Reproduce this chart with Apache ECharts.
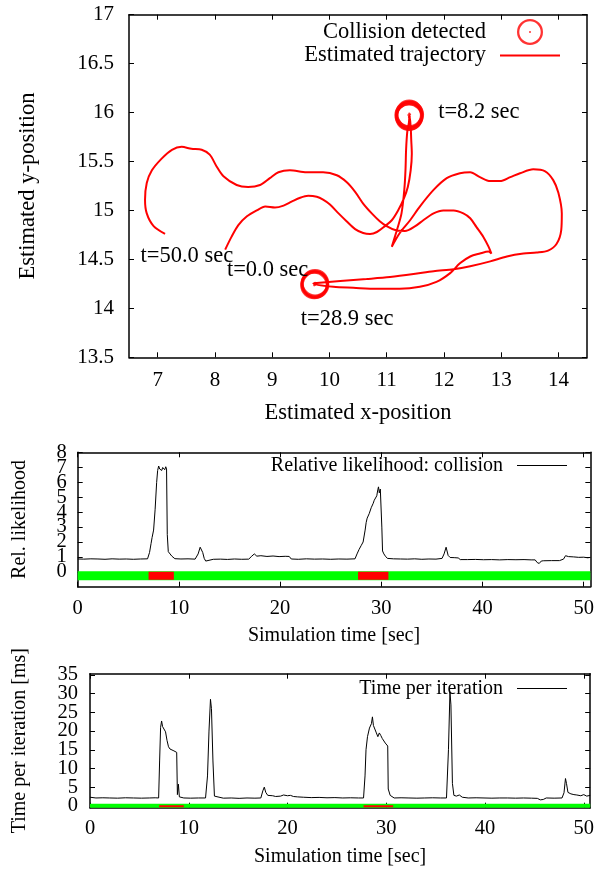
<!DOCTYPE html>
<html><head><meta charset="utf-8">
<script src="https://cdn.jsdelivr.net/npm/echarts@6/dist/echarts.min.js"></script>
<style>html,body{margin:0;padding:0;background:#fff}#c{width:597px;height:873px}</style>
</head><body><div id="c"></div><script>
// ---------- Top panel: estimated trajectory (x, y) in time order ----------
const trajectory = [
[8.18,14.60],[8.29,14.73],[8.41,14.85],[8.56,14.94],[8.73,15.00],[8.88,15.04],[9.05,15.03],[9.20,15.05],
[9.34,15.09],[9.49,15.13],[9.63,15.15],[9.78,15.14],[9.89,15.11],[10.01,15.06],[10.16,14.97],[10.30,14.89],
[10.45,14.81],[10.59,14.77],[10.71,14.76],[10.83,14.78],[10.97,14.84],[11.09,14.90],[11.20,15.00],[11.30,15.12],
[11.37,15.24],[11.42,15.41],[11.44,15.58],[11.43,15.72],[11.42,15.86],[11.40,15.97],
[11.39,15.90],[11.36,15.80],[11.34,15.62],[11.33,15.42],[11.31,15.22],[11.26,14.97],[11.18,14.80],[11.09,14.63],
[11.23,14.77],[11.41,14.90],[11.58,15.04],[11.82,15.21],[12.05,15.33],[12.28,15.38],[12.46,15.39],[12.63,15.34],
[12.81,15.30],[12.98,15.30],[13.16,15.34],[13.33,15.38],[13.56,15.42],[13.77,15.40],[13.91,15.31],[14.00,15.18],
[14.06,14.97],[14.05,14.80],[13.97,14.66],[13.82,14.59],[13.62,14.57],[13.39,14.56],[13.10,14.53],[12.81,14.48],
[12.46,14.43],[12.17,14.40],[11.82,14.38],[11.47,14.35],[11.06,14.32],[10.65,14.30],[10.19,14.28],[9.78,14.26],
[9.72,14.255],[10.07,14.22],[10.42,14.21],[10.83,14.20],[11.23,14.20],[11.58,14.22],[11.87,14.27],[12.11,14.36],
[12.28,14.46],[12.46,14.53],[12.63,14.56],[12.78,14.58],[12.83,14.56],[12.78,14.63],[12.69,14.73],[12.57,14.83],
[12.46,14.92],[12.34,14.97],[12.17,15.00],[11.99,15.00],[11.82,14.97],[11.64,14.90],[11.50,14.84],[11.32,14.79],
[11.15,14.80],[11.00,14.84],[10.88,14.89],[10.74,14.97],[10.59,15.07],[10.45,15.19],[10.30,15.29],[10.13,15.36],
[9.89,15.39],[9.60,15.39],[9.31,15.41],[9.11,15.39],[8.96,15.33],[8.79,15.26],[8.58,15.24],[8.38,15.26],
[8.15,15.35],[8.03,15.45],[7.91,15.57],[7.77,15.62],[7.59,15.63],[7.42,15.65],[7.25,15.62],[7.07,15.53],
[6.90,15.41],[6.81,15.28],[6.78,15.11],[6.81,14.97],[6.93,14.84],[7.13,14.76]
];
const collisions = [
[11.38,15.975],[11.40,15.96],[11.41,15.98],[11.395,15.99],[11.39,15.955],
[9.74,14.25],[9.755,14.24],[9.75,14.26],[9.735,14.235]
];
const annoText = ['t=8.2 sec','t=50.0 sec','t=0.0 sec','t=28.9 sec'];
const annoX = [11.90, 6.70, 8.21, 9.50];
const annoY = [16.00, 14.535, 14.39, 13.89];
const topXTicks = [7,8,9,10,11,12,13,14];
const topYTicks = [13.5,14,14.5,15,15.5,16,16.5,17];

// ---------- Middle panel: relative likelihood of collision [t, value] ----------
const likelihood = [
[0,0.86],[0.6,0.85],[1.3,0.87],[2.0,0.86],[2.7,0.84],[3.4,0.87],[4.1,0.85],[4.8,0.86],[5.5,0.84],[6.2,0.86],
[6.9,0.87],[7.1,1.3],[7.25,1.9],[7.35,2.3],[7.5,2.8],[7.65,4.2],[7.8,6.0],[7.9,6.8],[8.0,7.1],[8.1,6.9],
[8.2,7.0],[8.3,6.8],[8.4,7.0],[8.5,7.05],[8.6,6.85],[8.7,7.05],[8.78,6.9],[8.85,2.5],[8.95,1.35],[9.1,1.25],
[9.3,1.05],[9.6,0.88],[10.2,0.86],[10.9,0.87],[11.6,0.85],[11.9,1.2],[12.1,1.65],[12.2,1.7],[12.35,1.3],[12.5,0.9],
[12.65,0.72],[12.8,0.82],[13.4,0.84],[14.1,0.85],[14.8,0.83],[15.5,0.86],[16.2,0.84],[16.9,0.85],[17.2,1.05],[17.45,1.2],
[17.7,1.05],[18.1,1.08],[18.7,1.03],[19.3,1.06],[19.9,1.02],[20.5,1.04],[20.9,1.03],[21.1,0.86],[21.8,0.84],[22.6,0.87],
[23.4,0.85],[24.2,0.86],[25.0,0.84],[25.8,0.86],[26.6,0.85],[27.4,0.87],[27.6,1.2],[27.8,1.5],[28.0,1.75],[28.2,2.0],
[28.4,2.8],[28.5,3.3],[28.6,3.6],[28.8,3.9],[29.0,4.3],[29.2,4.6],[29.3,4.8],[29.4,4.7],[29.55,5.1],[29.65,5.5],
[29.72,5.7],[29.8,5.3],[29.9,5.55],[30.0,5.45],[30.05,3.0],[30.12,1.4],[30.25,1.2],[30.4,1.05],[30.6,0.9],[31.2,0.87],
[31.9,0.86],[32.6,0.85],[33.3,0.87],[34.0,0.84],[34.7,0.86],[35.4,0.85],[36.0,0.9],[36.2,1.2],[36.4,1.65],[36.6,1.1],
[36.8,0.96],[37.2,0.95],[37.6,0.93],[37.8,0.82],[38.5,0.82],[39.3,0.83],[40.1,0.81],[40.9,0.82],[41.7,0.8],[42.5,0.82],
[43.3,0.81],[44.1,0.82],[44.8,0.8],[45.2,0.8],[45.4,0.62],[45.6,0.56],[45.8,0.72],[46.0,0.74],[46.8,0.75],[47.6,0.75],
[48.0,0.85],[48.2,1.08],[48.5,1.02],[49.0,1.0],[49.5,0.97],[50.0,0.98],[50.4,0.94],[50.65,0.97]
];
const likeTicks = [0,1,2,3,4,5,6,7,8];

// ---------- Bottom panel: time per iteration [t, ms] ----------
const iterationTime = [
[0,2.3],[0.6,2.1],[1.3,2.15],[2.0,2.1],[2.8,2.05],[3.6,2.15],[4.4,2.1],[5.2,2.05],[6.0,2.1],[6.6,2.15],
[6.95,2.1],[7.05,12],[7.15,21],[7.25,22.7],[7.35,21.2],[7.5,20.8],[7.65,19.8],[7.8,17.5],[7.95,15.8],[8.1,15.2],
[8.3,14.9],[8.5,14.7],[8.7,14.8],[8.78,14.3],[8.85,3.0],[8.95,5.8],[9.0,5.5],[9.05,2.4],[9.15,2.3],[9.5,2.1],
[10.2,2.05],[11.0,2.1],[11.7,2.1],[11.9,8],[12.05,20],[12.2,28.5],[12.3,26],[12.45,12],[12.6,2.6],[12.8,2.1],
[13.5,2.05],[14.3,2.1],[15.1,2.0],[15.9,2.1],[16.7,2.05],[17.3,2.1],[17.5,4.0],[17.65,5.0],[17.8,3.6],[18.0,2.8],
[18.2,3.3],[18.5,2.7],[18.8,2.5],[19.0,3.0],[19.3,2.6],[19.6,2.9],[19.8,3.3],[20.0,2.7],[20.3,2.8],[20.6,2.5],
[21.0,2.4],[21.6,2.3],[22.4,2.2],[23.2,2.25],[24.0,2.15],[24.8,2.2],[25.6,2.1],[26.4,2.15],[27.2,2.1],[27.7,2.1],
[27.85,8],[27.95,15],[28.1,18.5],[28.3,20.8],[28.5,22.0],[28.6,23.8],[28.7,21.5],[28.85,21.0],[29.0,19.5],[29.15,18.5],
[29.3,19.5],[29.45,18.8],[29.6,18.0],[29.75,17.6],[29.9,16.8],[30.05,16.5],[30.15,16.0],[30.2,4.5],[30.3,5.0],[30.4,2.8],
[30.55,2.3],[30.8,2.1],[31.5,2.15],[32.3,2.1],[33.1,2.05],[33.9,2.1],[34.7,2.15],[35.5,2.1],[36.1,2.1],[36.3,15],
[36.45,30.5],[36.55,27],[36.7,6],[36.85,2.8],[37.1,2.6],[37.4,2.9],[37.7,2.3],[38.3,2.1],[39.1,2.15],[39.9,2.1],
[40.7,2.05],[41.5,2.1],[42.3,2.1],[43.1,2.05],[43.9,2.1],[44.7,2.05],[45.3,2.0],[45.6,1.6],[45.9,1.7],[46.2,2.1],
[47.0,2.05],[47.8,2.1],[48.0,3.5],[48.15,7.3],[48.25,6.0],[48.4,3.6],[48.7,3.2],[49.0,3.0],[49.3,2.9],[49.7,2.7],
[50.0,3.0],[50.3,2.6],[50.65,2.8]
];
const iterTicks = [0,5,10,15,20,25,30,35];

// ---------- Shared: time axis and collision state ----------
const timeTicks = [0,10,20,30,40,50];
const timeEnd = 50.65;
const collisionIntervals = [[7.0,9.5],[27.7,30.7]];

// ---------- build ----------
const FONT = 'Liberation Serif';
const txt = fs => ({color:'#000', fontFamily:FONT, fontSize:fs});
const TOP_TICK = 21, TOP_TEXT = 22.5, LOW_TICK = 20.5, LOW_TEXT = 20;

// padEnds: add blank sentinel labels at the axis ends so ECharts' min/max-label
// overlap handling drops only those blanks and keeps every real tick label.
function mkAxis(gridIndex, position, min, max, ticks, showLabel, margin, tickFs, name, nameGap, nameFs, padEnds){
  const vals = padEnds ? [min, ...ticks, max] : ticks;
  const a = {
    type:'value', gridIndex, position, min, max,
    axisLine:{show:true, onZero:false, lineStyle:{color:'#000', width:1.5}},
    axisTick:{show:true, inside:true, length:5, customValues:vals, lineStyle:{color:'#000', width:1}},
    axisLabel:{show:showLabel, customValues:vals, margin:margin,
               showMinLabel:!padEnds, showMaxLabel:!padEnds,
               formatter: v => (padEnds && (v===min || v===max)) ? '' : String(v), ...txt(tickFs)},
    splitLine:{show:false}
  };
  if (name){ a.name=name; a.nameLocation='middle'; a.nameGap=nameGap; a.nameTextStyle=txt(nameFs); }
  return a;
}

function bandSeries(xi, yi, y, color, width, intervals){
  const d = [];
  intervals.forEach((iv,k)=>{ if(k>0) d.push(null); d.push([iv[0],y],[iv[1],y]); });
  return {type:'line', xAxisIndex:xi, yAxisIndex:yi, data:d, symbol:'none', connectNulls:false,
    lineStyle:{color, width, cap:'butt'}, silent:true, z:2};
}

const ringSymbol = 'path://M13,0A13,13 0 1 1 13,26A13,13 0 1 1 13,0ZM13,2.3A10.7,10.7 0 1 0 13,23.7A10.7,10.7 0 1 0 13,2.3ZM13,12A1,1 0 1 1 13,14A1,1 0 1 1 13,12Z';

function lineLegend(name, right, top, w, h, fs){
  return {data:[{name, icon:'rect'}], orient:'vertical', align:'right', right, top, padding:0,
    itemWidth:w, itemHeight:h, selectedMode:false, textStyle:{...txt(fs), padding:[0,9,0,0]}};
}

const option = {
  animation:false,
  backgroundColor:'#fff',
  grid:[
    {left:129, top:14.7, width:458, height:342.6},
    {left:77.7, top:452.3, width:513, height:134.4},
    {left:90, top:673.7, width:500.7, height:134}
  ],
  xAxis:[
    mkAxis(0,'bottom',6.5,14.5,topXTicks,true,13,TOP_TICK,'Estimated x-position',44.5,TOP_TEXT),
    mkAxis(0,'top',6.5,14.5,topXTicks,false,0,TOP_TICK),
    mkAxis(1,'bottom',0,timeEnd,timeTicks,true,11,LOW_TICK,'Simulation time [sec]',39,LOW_TEXT),
    mkAxis(1,'top',0,timeEnd,timeTicks,false,0,LOW_TICK),
    mkAxis(2,'bottom',0,timeEnd,timeTicks,true,10,LOW_TICK,'Simulation time [sec]',39,LOW_TEXT),
    mkAxis(2,'top',0,timeEnd,timeTicks,false,0,LOW_TICK)
  ],
  yAxis:[
    mkAxis(0,'left',13.5,17,topYTicks,true,15,TOP_TICK,'Estimated y-position',89,TOP_TEXT),
    mkAxis(0,'right',13.5,17,topYTicks,false,0,TOP_TICK),
    mkAxis(1,'left',-1,8.02,likeTicks,true,11,LOW_TICK,'Rel. likelihood',48,LOW_TEXT,true),
    mkAxis(1,'right',-1,8.02,likeTicks,false,0,LOW_TICK),
    mkAxis(2,'left',-0.5,35.35,iterTicks,true,12,LOW_TICK,'Time per iteration [ms]',60,LOW_TEXT,true),
    mkAxis(2,'right',-0.5,35.35,iterTicks,false,0,LOW_TICK)
  ],
  legend:[
    {data:['Collision detected'], orient:'vertical', align:'right', right:54, top:19, padding:0,
     itemWidth:26, itemHeight:26, selectedMode:false, textStyle:{...txt(TOP_TEXT), padding:[0,26,0,0]}},
    lineLegend('Estimated trajectory', 37, 44, 60, 2, TOP_TEXT),
    lineLegend('Relative likelihood: collision', 30, 455.5, 50, 1, LOW_TEXT),
    lineLegend('Time per iteration', 30, 678.5, 50, 1, LOW_TEXT)
  ],
  series:[
    {name:'Estimated trajectory', type:'line', xAxisIndex:0, yAxisIndex:0, data:trajectory,
     symbol:'none', smooth:0.3, lineStyle:{color:'#ff0000', width:2}, itemStyle:{color:'#ff0000'}, z:3},
    {name:'Collision detected', type:'scatter', xAxisIndex:0, yAxisIndex:0, data:collisions,
     symbol:ringSymbol, symbolSize:28, itemStyle:{color:'#ff0000'}, z:4},
    {type:'scatter', xAxisIndex:0, yAxisIndex:0, silent:true, symbolSize:0,
     itemStyle:{color:'#000'},
     data:annoText.map((t,i)=>({name:t, value:[annoX[i],annoY[i]]})),
     label:{show:true, position:'right', distance:0, formatter:'{b}', opacity:1, ...txt(TOP_TEXT)}, z:5},

    bandSeries(2,2,-0.27,'#00ff00',9,[[0,timeEnd]]),
    bandSeries(2,2,-0.27,'#ff0000',8,collisionIntervals),
    {name:'Relative likelihood: collision', type:'line', xAxisIndex:2, yAxisIndex:2, data:likelihood,
     symbol:'none', lineStyle:{color:'#000', width:1}, itemStyle:{color:'#000'}, z:3},

    bandSeries(4,4,0,'#00ff00',4,[[0,timeEnd]]),
    bandSeries(4,4,-0.1,'#ff0000',2,collisionIntervals),
    {name:'Time per iteration', type:'line', xAxisIndex:4, yAxisIndex:4, data:iterationTime,
     symbol:'none', lineStyle:{color:'#000', width:1}, itemStyle:{color:'#000'}, z:3}
  ]
};
const chart = echarts.init(document.getElementById('c'), null, {renderer:'canvas'});
chart.setOption(option);
</script></body></html>
